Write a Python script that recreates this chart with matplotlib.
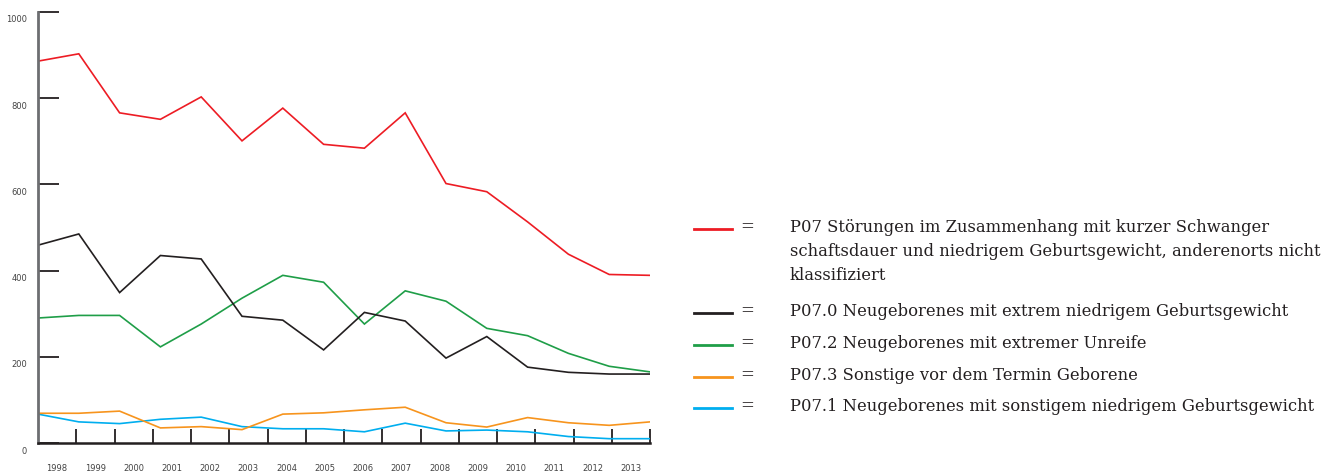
# P07 Neugeborene – Verlauf 1998 bis 2013

import numpy as np
import matplotlib.pyplot as plt
import matplotlib.transforms as mtransforms
from matplotlib.lines import Line2D

# DATA

years = list(range(1998, 2014))

p07 = [886, 903, 766, 751, 803, 701, 777, 693, 684, 766, 602, 583, 513, 438, 391, 389]
p07_0 = [459, 485, 349, 435, 427, 294, 285, 216, 303, 283, 197, 247, 176, 164, 160, 160]
p07_2 = [290, 296, 296, 223, 276, 336, 389, 373, 276, 353, 329, 266, 249, 208, 178, 165]
p07_3 = [69, 69, 74, 35, 38, 31, 67, 70, 77, 83, 47, 37, 59, 47, 41, 49]
p07_1 = [67, 49, 45, 55, 60, 38, 33, 33, 26, 46, 28, 30, 26, 15, 10, 10]

labels = [
    'P07 Störungen im Zusammenhang mit kurzer Schwanger\nschaftsdauer und niedrigem Geburtsgewicht, anderenorts nicht\nklassifiziert',
    'P07.0 Neugeborenes mit extrem niedrigem Geburtsgewicht',
    'P07.2 Neugeborenes mit extremer Unreife',
    'P07.3 Sonstige vor dem Termin Geborene',
    'P07.1 Neugeborenes mit sonstigem niedrigem Geburtsgewicht',
]
colors = ['#ed1c24', '#231f20', '#1f9e48', '#f7941d', '#00aeef']
series = [p07, p07_0, p07_2, p07_3, p07_1]

y_ticks = [0, 200, 400, 600, 800, 1000]

# FIGURE

fig = plt.figure(figsize=(13.31, 4.72), dpi=100)
ax = fig.add_axes([38/1331, 1 - 443/472, (650 - 38)/1331, (443 - 12)/472])

# draw the lines (red on top, like in the original)
for values, color in reversed(list(zip(series, colors))):
    ax.plot(years, values, color=color, lw=1.2, solid_joinstyle='miter')

ax.set_xlim(years[0], years[-1])
ax.set_ylim(0, 1000)

# x axis: boundary ticks without labels, year labels centred between them
edges = np.linspace(years[0], years[-1], len(years) + 1)
ax.set_xticks(edges[1:])
ax.set_xticklabels([])
ax.set_xticks((edges[:-1] + edges[1:]) / 2, minor=True)
ax.set_xticklabels([str(y) for y in years], minor=True)
ax.tick_params(axis='x', which='major', direction='in', length=10, width=1.3, color='#231f20')
ax.tick_params(axis='x', which='minor', length=0, pad=15, labelsize=6, labelcolor='#444444')

# y axis: labels sit a bit below their tick
ax.set_yticks(y_ticks)
ax.set_yticklabels([str(v) for v in y_ticks])
ax.tick_params(axis='y', direction='in', length=15, width=1.3, color='#231f20',
               pad=8, labelsize=6, labelcolor='#444444')
offset = mtransforms.ScaledTranslation(0, -0.07, fig.dpi_scale_trans)
for lab in ax.get_yticklabels():
    lab.set_transform(lab.get_transform() + offset)

for side in ['top', 'right']:
    ax.spines[side].set_visible(False)
ax.spines['left'].set_color('#6d6e71')
ax.spines['left'].set_linewidth(2)
ax.spines['bottom'].set_color('#231f20')
ax.spines['bottom'].set_linewidth(1.8)

# LEGEND (drawn by hand: line, "=", text)

rows_y = [229, 313, 345, 377, 408]
serif = ['DejaVu Serif']
for yy, label, color in zip(rows_y, labels, colors):
    fy = 1 - yy/472
    fig.add_artist(Line2D([694/1331, 732/1331], [fy, fy], color=color, lw=2,
                          transform=fig.transFigure))
    fig.text(740/1331, 1 - (yy - 2)/472, '=', family=serif, fontsize=12,
             color='#231f20', va='center', ha='left')
    fig.text(790/1331, 1 - (yy - 10)/472, label, family=serif, fontsize=11.8,
             color='#231f20', va='top', ha='left', linespacing=1.52)

fig.savefig('out.png', dpi=100)
